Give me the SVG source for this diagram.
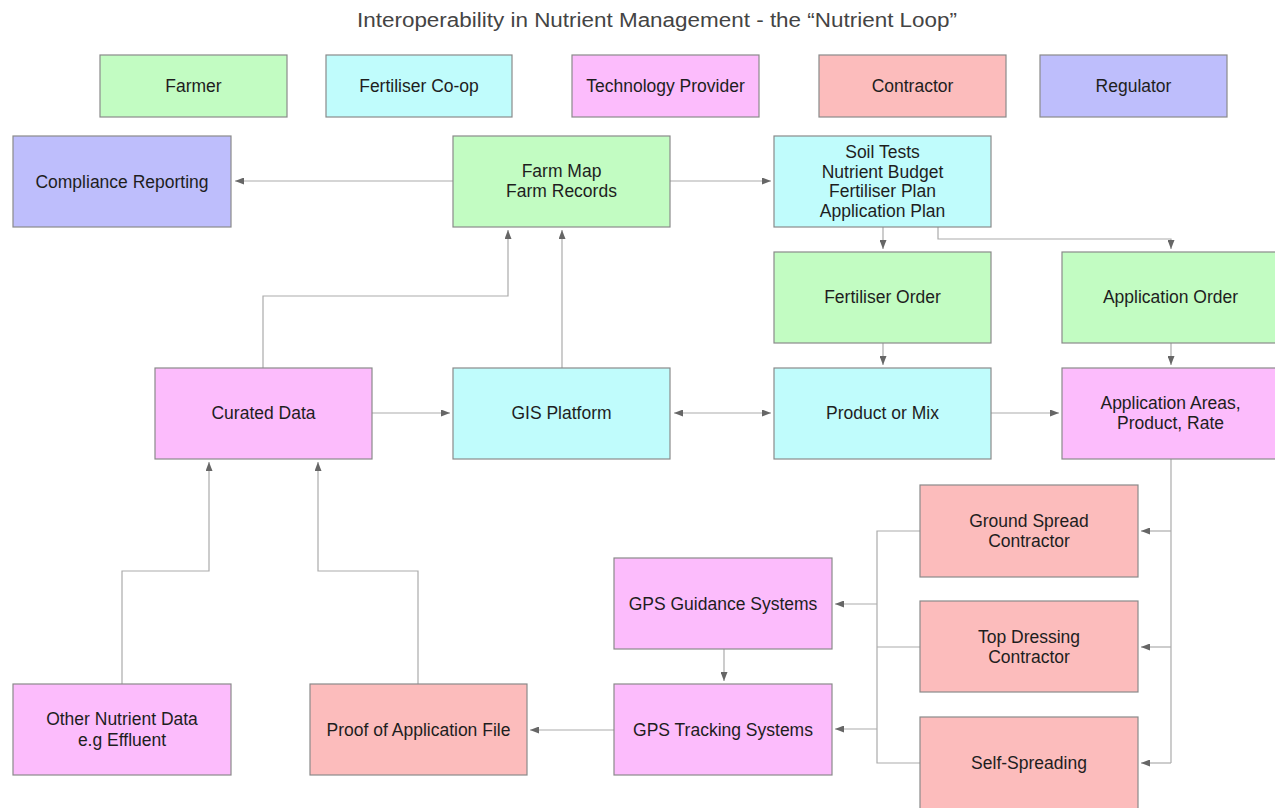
<svg xmlns="http://www.w3.org/2000/svg" width="1275" height="808" viewBox="0 0 1275 808">
<defs>
<style>
.box{stroke:#8a8a8a;stroke-width:1.2}
.g{fill:#c2fcc2}
.c{fill:#c0fcfc}
.p{fill:#fcbcfc}
.s{fill:#fcbcbc}
.b{fill:#bebefc}
text{font-family:"Liberation Sans",Arial,Helvetica,sans-serif;font-size:17.5px;fill:#1e1e1e;text-anchor:middle}
.title{font-size:20px;fill:#444}
.ln{fill:none;stroke:#ababab;stroke-width:1.2}
.ar{marker-end:url(#ah)}
</style>
<marker id="ah" viewBox="0 0 9 7" refX="9" refY="3.5" markerWidth="9" markerHeight="7" markerUnits="userSpaceOnUse" orient="auto-start-reverse">
<path d="M0,0 L9,3.5 L0,7 z" fill="#666"/>
</marker>
</defs>
<rect width="1275" height="808" fill="#fff"/>
<text class="title" x="657" y="27" textLength="600" lengthAdjust="spacingAndGlyphs">Interoperability in Nutrient Management - the “Nutrient Loop”</text>

<g id="legend-farmer"><rect class="box g" x="100" y="55" width="187" height="62"/><text x="193.5" y="92">Farmer</text></g>
<g id="legend-coop"><rect class="box c" x="326" y="55" width="186" height="62"/><text x="419" y="92">Fertiliser Co-op</text></g>
<g id="legend-tech"><rect class="box p" x="572" y="55" width="187" height="62"/><text x="665.5" y="92">Technology Provider</text></g>
<g id="legend-contractor"><rect class="box s" x="819" y="55" width="187" height="62"/><text x="912.5" y="92">Contractor</text></g>
<g id="legend-regulator"><rect class="box b" x="1040" y="55" width="187" height="62"/><text x="1133.5" y="92">Regulator</text></g>

<g id="connectors">
<line class="ln ar" x1="453" y1="181" x2="235" y2="181"/>
<line class="ln ar" x1="670" y1="181" x2="771" y2="181"/>
<line class="ln ar" x1="883" y1="227" x2="883" y2="249"/>
<polyline class="ln ar" points="938,227 938,239 1171,239 1171,249"/>
<line class="ln ar" x1="883" y1="343" x2="883" y2="365"/>
<line class="ln ar" x1="1171" y1="343" x2="1171" y2="365"/>
<line class="ln ar" x1="372" y1="413" x2="450" y2="413"/>
<line class="ln ar" x1="674" y1="413" x2="771" y2="413" marker-start="url(#ah)"/>
<line class="ln ar" x1="991" y1="413" x2="1059" y2="413"/>
<polyline class="ln ar" points="263,368 263,296 508,296 508,230"/>
<line class="ln ar" x1="562" y1="368" x2="562" y2="230"/>
<line class="ln" x1="1171" y1="459" x2="1171" y2="763"/>
<line class="ln ar" x1="1171" y1="531" x2="1141" y2="531"/>
<line class="ln ar" x1="1171" y1="647" x2="1141" y2="647"/>
<line class="ln ar" x1="1171" y1="763" x2="1141" y2="763"/>
<polyline class="ln" points="920,531 877,531 877,763 920,763"/>
<line class="ln" x1="920" y1="647" x2="877" y2="647"/>
<line class="ln ar" x1="877" y1="604" x2="835" y2="604"/>
<line class="ln ar" x1="877" y1="729" x2="835" y2="729"/>
<line class="ln ar" x1="724" y1="649" x2="724" y2="681"/>
<line class="ln ar" x1="614" y1="730" x2="530" y2="730"/>
<polyline class="ln ar" points="418,684 418,571 318,571 318,462"/>
<polyline class="ln ar" points="122,684 122,571 209,571 209,462"/>
</g>

<g id="compliance"><rect class="box b" x="13" y="136" width="218" height="91"/><text x="122" y="188">Compliance Reporting</text></g>
<g id="farm-map"><rect class="box g" x="453" y="136" width="217" height="91"/><text x="561.5" y="177">Farm Map</text><text x="561.5" y="197">Farm Records</text></g>
<g id="soil-tests"><rect class="box c" x="774" y="136" width="217" height="91"/><text x="882.5" y="158">Soil Tests</text><text x="882.5" y="178">Nutrient Budget</text><text x="882.5" y="197">Fertiliser Plan</text><text x="882.5" y="217">Application Plan</text></g>
<g id="fertiliser-order"><rect class="box g" x="774" y="252" width="217" height="91"/><text x="882.5" y="303">Fertiliser Order</text></g>
<g id="application-order"><rect class="box g" x="1062" y="252" width="217" height="91"/><text x="1170.5" y="303">Application Order</text></g>
<g id="curated-data"><rect class="box p" x="155" y="368" width="217" height="91"/><text x="263.5" y="419">Curated Data</text></g>
<g id="gis-platform"><rect class="box c" x="453" y="368" width="217" height="91"/><text x="561.5" y="419">GIS Platform</text></g>
<g id="product-mix"><rect class="box c" x="774" y="368" width="217" height="91"/><text x="882.5" y="419">Product or Mix</text></g>
<g id="application-areas"><rect class="box p" x="1062" y="368" width="217" height="91"/><text x="1170.5" y="409">Application Areas,</text><text x="1170.5" y="429">Product, Rate</text></g>
<g id="ground-spread"><rect class="box s" x="920" y="485" width="218" height="92"/><text x="1029" y="527">Ground Spread</text><text x="1029" y="547">Contractor</text></g>
<g id="top-dressing"><rect class="box s" x="920" y="601" width="218" height="91"/><text x="1029" y="643">Top Dressing</text><text x="1029" y="663">Contractor</text></g>
<g id="self-spreading"><rect class="box s" x="920" y="717" width="218" height="95"/><text x="1029" y="769">Self-Spreading</text></g>
<g id="gps-guidance"><rect class="box p" x="614" y="558" width="218" height="91"/><text x="723" y="610">GPS Guidance Systems</text></g>
<g id="gps-tracking"><rect class="box p" x="614" y="684" width="218" height="91"/><text x="723" y="736">GPS Tracking Systems</text></g>
<g id="proof-file"><rect class="box s" x="310" y="684" width="217" height="91"/><text x="418.5" y="736">Proof of Application File</text></g>
<g id="other-nutrient"><rect class="box p" x="13" y="684" width="218" height="91"/><text x="122" y="725">Other Nutrient Data</text><text x="122" y="746">e.g Effluent</text></g>
</svg>
